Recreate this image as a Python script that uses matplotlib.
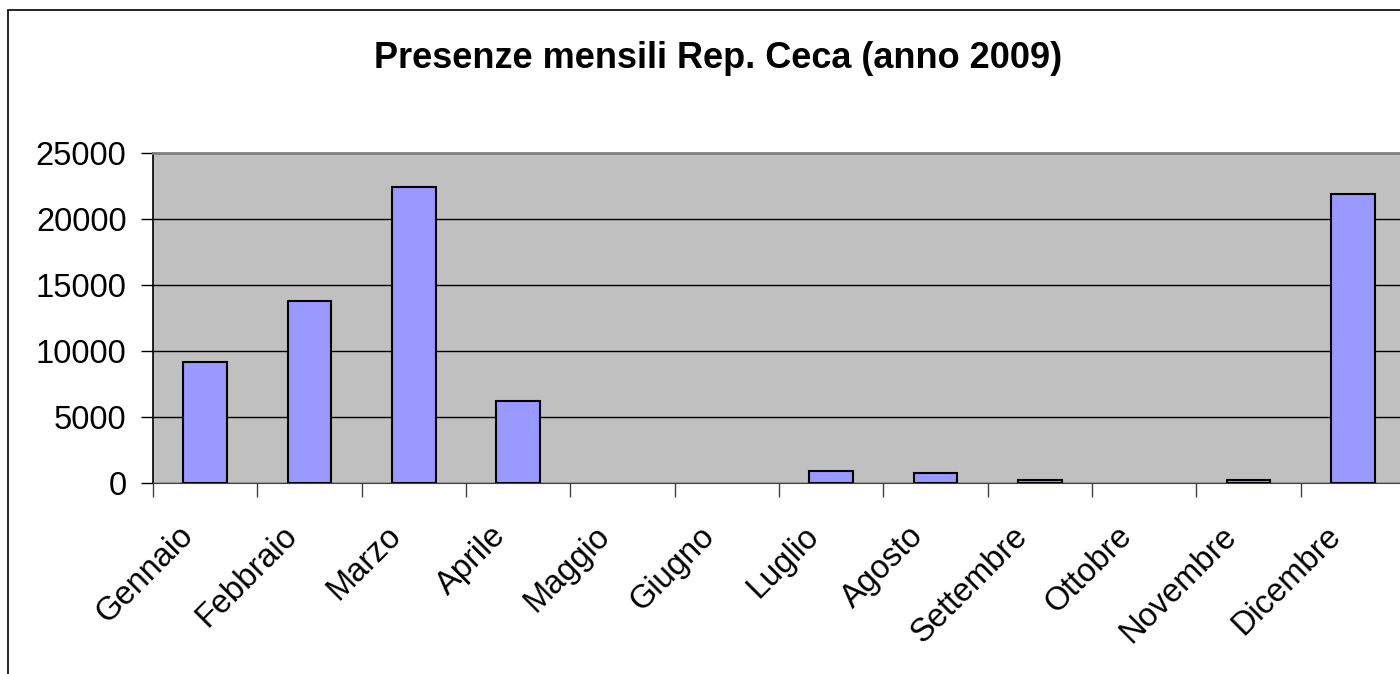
import numpy as np
import matplotlib
matplotlib.use("Agg")
import matplotlib.pyplot as plt
import matplotlib.transforms as mtransforms
from matplotlib.patches import Rectangle

months = ["Gennaio", "Febbraio", "Marzo", "Aprile", "Maggio", "Giugno",
          "Luglio", "Agosto", "Settembre", "Ottobre", "Novembre", "Dicembre"]
presenze = [9200, 13800, 22400, 6200, 0, 0, 900, 750, 220, 0, 200, 21900]
yticks = [0, 5000, 10000, 15000, 20000, 25000]

plt.rcParams['font.family'] = ['Liberation Sans', 'DejaVu Sans']

W, H = 1400, 674
fig = plt.figure(figsize=(W / 100, H / 100), dpi=100)

# outer chart border
fig.patches.append(Rectangle((8 / W, -0.05), 1.1, 1 - 10 / H + 0.05,
                             transform=fig.transFigure, fill=False,
                             edgecolor='black', linewidth=1.2))

# plot area in pixels: left 153, right 1405, top 153, bottom 483
ax = fig.add_axes([153 / W, 1 - 483 / H, (1405 - 153) / W, (483 - 153) / H])
ax.set_facecolor('#C0C0C0')

x = np.arange(len(months))
edges = ['black' if v > 0 else 'none' for v in presenze]
ax.bar(x + 0.5, presenze, width=0.42, color='#9999FF',
       edgecolor=edges, linewidth=1.5, zorder=3)

ax.set_xlim(0, len(months))
ax.set_ylim(0, 25000)
ax.set_yticks(yticks)
ax.set_yticklabels([str(v) for v in yticks], fontsize=23.5)
ax.yaxis.grid(True, color='black', linewidth=1.0, zorder=1)
ax.set_axisbelow(True)

ax.set_xticks(np.arange(len(months) + 1))
ax.set_xticklabels([])
ax.set_xticks(x + 0.5, minor=True)
ax.set_xticklabels(months, minor=True, rotation=45, ha='right',
                   rotation_mode='anchor', fontsize=23.5)
ax.tick_params(axis='x', which='minor', length=0, pad=16)
ax.tick_params(axis='x', which='major', length=10, width=1, color='#404040')
ax.tick_params(axis='y', length=9, width=1, pad=10)

# nudge month labels left/down like the original
shift = mtransforms.ScaledTranslation(-28 / 100, -15 / 100, fig.dpi_scale_trans)
for lbl in ax.get_xticklabels(minor=True):
    lbl.set_transform(lbl.get_transform() + shift)

ax.spines['left'].set_color('black')
ax.spines['left'].set_linewidth(1.2)
ax.spines['bottom'].set_color('#404040')
ax.spines['top'].set_color('#808080')
ax.spines['top'].set_linewidth(2)
ax.spines['right'].set_visible(False)

fig.text(718 / W, 1 - 68 / H, "Presenze mensili Rep. Ceca (anno 2009)",
         ha='center', va='baseline', fontsize=26, fontweight='bold')

fig.savefig("out.png", dpi=100)
